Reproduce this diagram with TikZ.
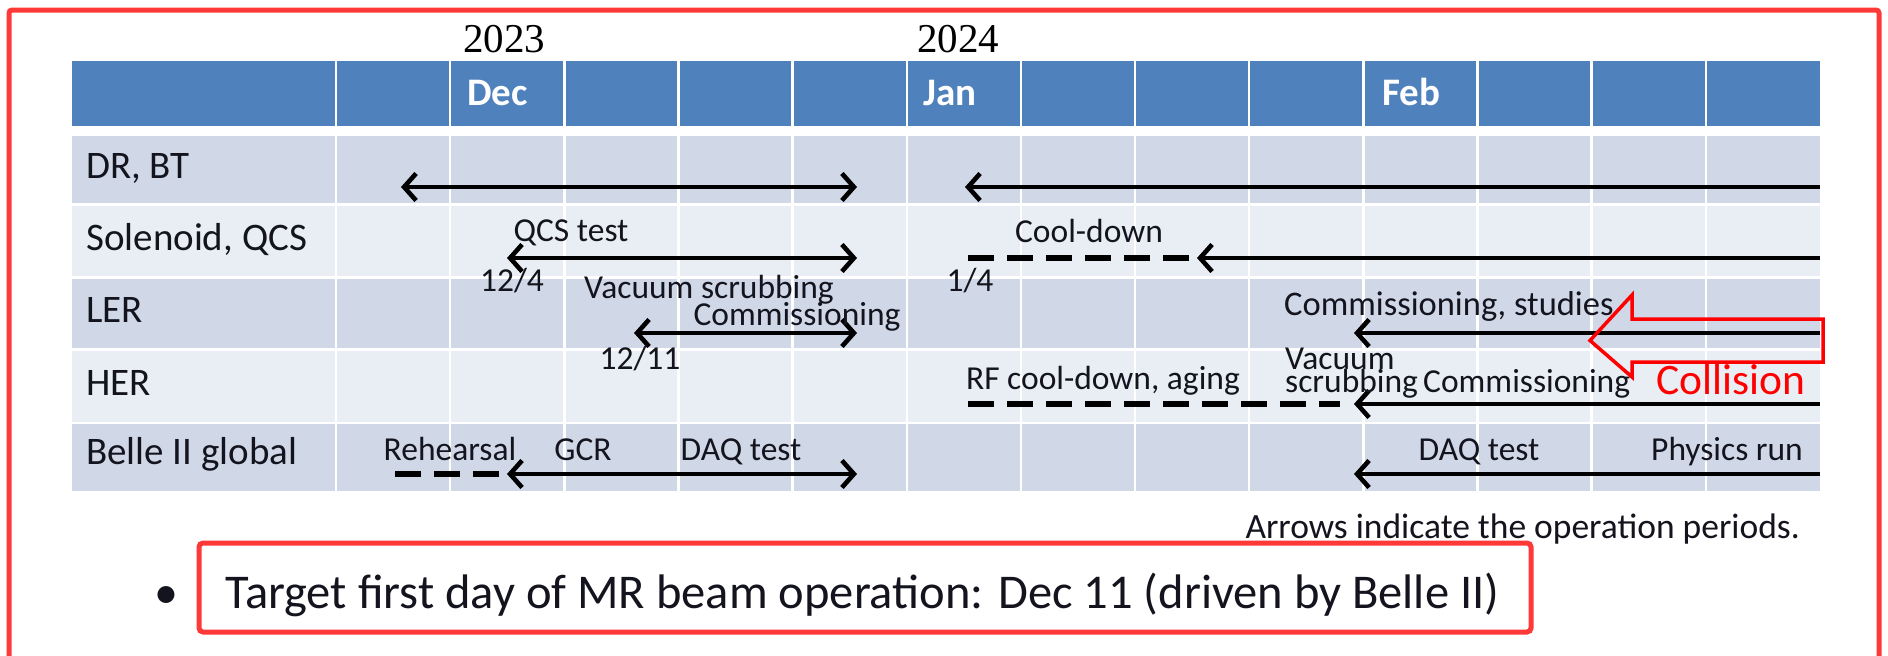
\documentclass[tikz,border=0pt]{standalone}
\usepackage{fontspec}
\setmainfont{Carlito}
\newfontfamily\yearfont{Liberation Serif}
\usetikzlibrary{arrows.meta}
\definecolor{hdrblue}{RGB}{79,129,189}
\definecolor{rowdark}{RGB}{208,216,232}
\definecolor{rowlight}{RGB}{233,237,244}
\definecolor{framered}{RGB}{255,56,56}
\definecolor{purered}{RGB}{255,0,0}
\definecolor{txt}{RGB}{20,20,30}
\begin{document}
\begin{tikzpicture}[x=1pt,y=-1pt,
  lab/.style={font=\fontsize{33.5}{36}\selectfont, text=txt, inner sep=0pt, anchor=base},
  labw/.style={lab, anchor=base west},
  rowlab/.style={font=\fontsize{39}{42}\selectfont, text=txt, inner sep=0pt, anchor=base west},
  hdrtxt/.style={font=\bfseries\fontsize{39}{40}\selectfont, text=white, inner sep=0pt, anchor=base west},
  yeartxt/.style={font=\yearfont\fontsize{41}{44}\selectfont, inner sep=0pt, anchor=base},
  period/.style={line width=4.6pt, line cap=butt},
  lboth/.style={period, arrows={Straight Barb[length=12pt,width=27pt]-Straight Barb[length=12pt,width=27pt]}},
  lleft/.style={period, arrows={Straight Barb[length=12pt,width=27pt]-}},
  dsh/.style={line width=6.5pt, dash pattern=on 26pt off 13pt},
  sep/.style={white, line width=2.5pt},
]
\useasboundingbox (0,0) rectangle (1888,656);
\fill[white] (0,0) rectangle (1888,656);
% outer frame
\draw[framered, line width=5pt, rounded corners=3pt] (9,10) rectangle (1879,720);
% table rows
\fill[hdrblue]  (72,61)  rectangle (1820,126);
\fill[rowdark]  (72,136) rectangle (1820,203);
\fill[rowlight] (72,206) rectangle (1820,276);
\fill[rowdark]  (72,279) rectangle (1820,348);
\fill[rowlight] (72,351) rectangle (1820,422);
\fill[rowdark]  (72,424) rectangle (1820,491);
\foreach \i in {0,...,12} {
  \draw[sep] ({336+\i*114.15},61) -- ({336+\i*114.15},491);
}
% years and header
\node[yeartxt] (y23) at (504,52) {2023};
\node[yeartxt] (y24) at (958,52) {2024};
\node[hdrtxt] (dec) at (467,105) {Dec};
\node[hdrtxt] (jan) at (923,105) {Jan};
\node[hdrtxt] (feb) at (1382,105) {Feb};
% row labels
\node[rowlab] (r1) at (86,178) {DR, BT};
\node[rowlab] (r2) at (86,250) {Solenoid, QCS};
\node[rowlab] (r3) at (86,322) {LER};
\node[rowlab] (r4) at (86,395) {HER};
\node[rowlab] (r5) at (86,464) {Belle II global};
% coordinates
\coordinate (drA) at (401,187);  \coordinate (drB) at (857,187);
\coordinate (drC) at (965,187);  \coordinate (drD) at (1820,187);
\coordinate (solA) at (507,258); \coordinate (solB) at (857,258);
\coordinate (solC) at (968,258); \coordinate (solD) at (1192,258);
\coordinate (solE) at (1197,258); \coordinate (solF) at (1820,258);
\coordinate (lerA) at (634,333); \coordinate (lerB) at (857,333);
\coordinate (lerC) at (1354,333); \coordinate (lerD) at (1820,333);
\coordinate (herA) at (968,404); \coordinate (herB) at (1340,404);
\coordinate (herC) at (1354,404); \coordinate (herD) at (1820,404);
\coordinate (beA) at (395,474); \coordinate (beB) at (500,474);
\coordinate (beC) at (507,474); \coordinate (beD) at (857,474);
\coordinate (beE) at (1354,474); \coordinate (beF) at (1820,474);
% arrows
\draw[lboth] (drA) -- (drB);
\draw[lleft] (drC) -- (drD);
\draw[lboth] (solA) -- (solB);
\draw[dsh] (solC) -- (solD);
\draw[lleft] (solE) -- (solF);
\draw[lboth] (lerA) -- (lerB);
\draw[lleft] (lerC) -- (lerD);
\draw[dsh] (herA) -- (herB);
\draw[lleft] (herC) -- (herD);
\draw[dsh] (beA) -- (beB);
\draw[lboth] (beC) -- (beD);
\draw[lleft] (beE) -- (beF);
% labels
\node[lab] (qcs) at (571,241) {QCS test};
\node[lab] (d124) at (512,291) {12/4};
\node[lab] (cool) at (1089,242) {Cool-down};
\node[lab] (d14) at (970,291) {1/4};
\node[lab] (vac1) at (709,298) {Vacuum scrubbing};
\node[lab] (com1) at (797,325) {Commissioning};
\node[lab] (d1211) at (640,369) {12/11};
\node[labw, font=\fontsize{34.5}{36}\selectfont] (comst) at (1284,315) {Commissioning, studies};
\node[lab] (rf) at (1103,389) {RF cool-down, aging};
\node[labw] (vac2a) at (1285,369) {Vacuum};
\node[labw] (vac2b) at (1285,392) {scrubbing};
\node[labw] (com2) at (1423,392) {Commissioning};
\node[lab] (reh) at (450,460) {Rehearsal};
\node[lab] (gcr) at (583,460) {GCR};
\node[lab] (daq1) at (741,460) {DAQ test};
\node[lab] (daq2) at (1479,460) {DAQ test};
\node[lab] (phys) at (1727,460) {Physics run};
\node[lab, anchor=base east, font=\fontsize{35.5}{38}\selectfont] (note) at (1800,538) {Arrows indicate the operation periods.};
% collision block arrow
\draw[purered, line width=3.5pt, line join=miter]
  (1823,319) -- (1632,319) -- (1632,295) -- (1590,340.5) -- (1632,377) -- (1632,362) -- (1823,362) -- cycle;
\node[lab, text=purered, font=\fontsize{43.5}{46}\selectfont] (coll) at (1731,394) {Collision};
% bullet
\draw[framered, line width=5pt, rounded corners=4pt] (199,543) rectangle (1531,632);
\node[lab, font=\fontsize{48}{52}\selectfont] (bul) at (166,608) {•};
\node[labw, font=\fontsize{48.5}{52}\selectfont] (target) at (225,608) {Target first day of MR beam operation: Dec 11 (driven by Belle II)};
\end{tikzpicture}
\end{document}
